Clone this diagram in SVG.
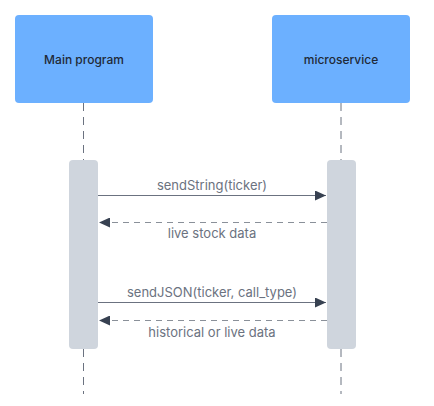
<svg xmlns="http://www.w3.org/2000/svg" width="434" height="406" viewBox="0 0 434 406">
  <style>
    .actor { fill: #6cb0ff; }
    .actor-text { font-family: Inter, "Liberation Sans", sans-serif; font-size: 12px; font-weight: 500; fill: #1f2937; text-anchor: middle; }
    .lifeline { stroke: #6b7280; stroke-width: 1; stroke-dasharray: 8 6; fill: none; }
    .activation { fill: #cfd5dd; }
    .msg { stroke: #6b7280; stroke-width: 1.2; fill: none; }
    .ret { stroke: #8a9099; stroke-width: 1.2; stroke-dasharray: 6 5; fill: none; }
    .label { font-family: Inter, "Liberation Sans", sans-serif; font-size: 13px; fill: #6b7280; text-anchor: middle; }
  </style>
  <defs>
    <marker id="arrow" viewBox="0 0 11 10" refX="11" refY="5" markerWidth="11" markerHeight="10" markerUnits="userSpaceOnUse" orient="auto">
      <path d="M0,0 L11,5 L0,10 z" fill="#374151"/>
    </marker>
  </defs>
  <rect width="434" height="406" fill="#ffffff"/>
  <g id="lifelines">
    <line class="lifeline" x1="83.5" y1="103" x2="83.5" y2="160"/>
    <line class="lifeline" x1="83.5" y1="349" x2="83.5" y2="394"/>
    <line class="lifeline" x1="341" y1="103" x2="341" y2="160"/>
    <line class="lifeline" x1="341" y1="349" x2="341" y2="394"/>
  </g>
  <g id="main-program">
    <rect class="actor" x="15" y="15" width="138" height="88" rx="4"/>
    <text class="actor-text" x="84" y="63.5">Main program</text>
  </g>
  <g id="microservice">
    <rect class="actor" x="272" y="15" width="138" height="88" rx="4"/>
    <text class="actor-text" x="341" y="63.5">microservice</text>
  </g>
  <g id="main-activation">
    <rect class="activation" x="69" y="160" width="29" height="189" rx="4"/>
  </g>
  <g id="micro-activation">
    <rect class="activation" x="327" y="160" width="29" height="189" rx="4"/>
  </g>
  <g id="connectors">
    <line class="msg" x1="98" y1="195.5" x2="326" y2="195.5" marker-end="url(#arrow)"/>
    <text class="label" x="212" y="190">sendString(ticker)</text>
    <line class="ret" x1="327" y1="222.5" x2="99" y2="222.5" marker-end="url(#arrow)"/>
    <text class="label" x="212" y="238">live stock data</text>
    <line class="msg" x1="98" y1="302.5" x2="326" y2="302.5" marker-end="url(#arrow)"/>
    <text class="label" x="212" y="296.5">sendJSON(ticker, call_type)</text>
    <line class="ret" x1="327" y1="320.5" x2="99" y2="320.5" marker-end="url(#arrow)"/>
    <text class="label" x="212" y="336.5">historical or live data</text>
  </g>
</svg>
